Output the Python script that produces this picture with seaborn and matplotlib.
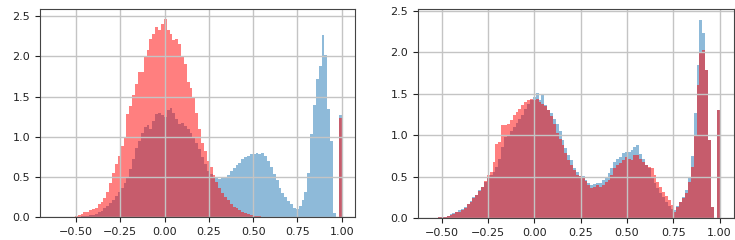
import numpy as np
import pandas as pd
import matplotlib
matplotlib.use("Agg")
import matplotlib.pyplot as plt
import seaborn as sns

# ---------------- data (density heights per bin) ----------------
left_lo, left_hi = -0.62, 1.0
right_lo, right_hi = -0.55, 1.0
n_bins = 100

left_blue = [
    0, 0, 0, 0, 0, 0, 0, 0.0, 0.005, 0.01,
    0.015, 0.02, 0.025, 0.03, 0.04, 0.06, 0.08, 0.11, 0.14, 0.18,
    0.22, 0.27, 0.32, 0.36, 0.42, 0.50, 0.60, 0.72, 0.86, 0.95,
    1.05, 1.12, 1.15, 1.10, 1.20, 1.28, 1.30, 1.27, 1.25, 1.33,
    1.36, 1.30, 1.22, 1.16, 1.17, 1.13, 1.10, 1.05, 0.98, 0.92,
    0.85, 0.75, 0.66, 0.58, 0.54, 0.50, 0.49, 0.47, 0.49, 0.50,
    0.53, 0.57, 0.61, 0.65, 0.68, 0.72, 0.75, 0.76, 0.78, 0.78,
    0.80, 0.79, 0.80, 0.76, 0.70, 0.62, 0.54, 0.46, 0.37, 0.30,
    0.25, 0.20, 0.16, 0.12, 0.10, 0.14, 0.22, 0.32, 0.55, 1.03,
    1.40, 1.72, 1.88, 2.26, 2.02, 1.35, 0.95, 0.05, 0, 1.27,
]
left_red = [
    0, 0, 0, 0, 0, 0, 0.005, 0.01, 0.03, 0.04,
    0.06, 0.07, 0.09, 0.10, 0.12, 0.16, 0.19, 0.24, 0.32, 0.42,
    0.55, 0.66, 0.76, 0.88, 1.00, 1.28, 1.38, 1.52, 1.66, 1.80,
    1.81, 2.00, 2.08, 2.22, 2.28, 2.36, 2.33, 2.40, 2.46, 2.33,
    2.28, 2.20, 2.21, 2.15, 2.00, 1.90, 1.68, 1.60, 1.48, 1.30,
    1.10, 0.92, 0.82, 0.70, 0.62, 0.52, 0.44, 0.36, 0.30, 0.25,
    0.21, 0.17, 0.13, 0.11, 0.09, 0.07, 0.05, 0.04, 0.03, 0.02,
    0.015, 0.01, 0.005, 0, 0, 0, 0, 0, 0, 0,
    0, 0, 0, 0, 0, 0, 0, 0, 0, 0,
    0, 0, 0, 0, 0, 0, 0, 0, 0, 1.23,
]
right_blue = [
    0, 0.005, 0.01, 0.01, 0.02, 0.03, 0.05, 0.06, 0.08, 0.10,
    0.11, 0.14, 0.17, 0.21, 0.26, 0.28, 0.34, 0.38, 0.44, 0.50,
    0.52, 0.56, 0.62, 0.72, 0.86, 0.98, 1.00, 1.05, 1.10, 1.15,
    1.20, 1.25, 1.32, 1.38, 1.42, 1.46, 1.51, 1.42, 1.48, 1.37,
    1.31, 1.27, 1.20, 1.13, 1.05, 0.94, 0.85, 0.76, 0.70, 0.60,
    0.56, 0.51, 0.51, 0.46, 0.42, 0.40, 0.41, 0.42, 0.42, 0.46,
    0.50, 0.54, 0.60, 0.68, 0.71, 0.74, 0.79, 0.80, 0.80, 0.82,
    0.86, 0.88, 0.78, 0.72, 0.64, 0.60, 0.50, 0.42, 0.36, 0.30,
    0.26, 0.20, 0.15, 0.11, 0.10, 0.15, 0.20, 0.26, 0.34, 0.50,
    0.75, 1.27, 1.85, 2.39, 2.23, 1.79, 0.94, 0.14, 0, 1.30,
]
right_red = [
    0, 0.005, 0.01, 0.01, 0.02, 0.03, 0.04, 0.05, 0.07, 0.08,
    0.10, 0.13, 0.17, 0.20, 0.25, 0.28, 0.33, 0.38, 0.45, 0.52,
    0.56, 0.68, 0.90, 0.92, 1.12, 1.12, 1.14, 1.18, 1.24, 1.28,
    1.32, 1.36, 1.40, 1.42, 1.44, 1.42, 1.44, 1.40, 1.38, 1.35,
    1.30, 1.23, 1.13, 1.03, 0.95, 0.88, 0.79, 0.70, 0.64, 0.58,
    0.52, 0.51, 0.48, 0.45, 0.40, 0.36, 0.38, 0.40, 0.38, 0.40,
    0.44, 0.46, 0.52, 0.60, 0.64, 0.67, 0.70, 0.74, 0.72, 0.70,
    0.76, 0.76, 0.72, 0.68, 0.64, 0.62, 0.60, 0.52, 0.44, 0.38,
    0.32, 0.27, 0.22, 0.16, 0.08, 0.14, 0.20, 0.24, 0.30, 0.44,
    0.62, 1.00, 1.61, 2.00, 2.03, 1.79, 0.94, 0.14, 0, 1.31,
]

x_ticks = [-0.50, -0.25, 0.00, 0.25, 0.50, 0.75, 1.00]
y_ticks = [0.0, 0.5, 1.0, 1.5, 2.0, 2.5]

# ---------------- figure ----------------
plt.rcParams["font.family"] = ["DejaVu Sans"]
plt.rcParams["font.size"] = 8

fig = plt.figure(figsize=(7.35, 2.4), dpi=100)
ax_l = fig.add_axes([40 / 735, 1 - 217.3 / 240, (355 - 40) / 735, (217.3 - 9) / 240])
ax_r = fig.add_axes([418 / 735, 1 - 218.3 / 240, (733.5 - 418) / 735, (218.3 - 9.3) / 240])


def draw(ax, lo, hi, blue, red, xlim, ylim):
    edges = [float(e) for e in np.linspace(lo, hi, n_bins + 1)]
    centers = [(edges[i] + edges[i + 1]) / 2 for i in range(n_bins)]
    df = pd.DataFrame({"x": centers, "blue": blue, "red": red})
    sns.histplot(data=df, x="x", weights="blue", bins=edges, stat="count",
                 color="#1f77b4", alpha=0.5, linewidth=0, ax=ax)
    sns.histplot(data=df, x="x", weights="red", bins=edges, stat="count",
                 color="red", alpha=0.5, linewidth=0, ax=ax)
    ax.set_xlim(*xlim)
    ax.set_ylim(*ylim)
    ax.set_xticks(x_ticks)
    ax.set_yticks(y_ticks)
    ax.set_xticklabels([f"{v:.2f}".replace("-", "\u2212") for v in x_ticks])
    ax.set_yticklabels([f"{v:.1f}" for v in y_ticks])
    ax.grid(True, color="#c4c4c4", linewidth=1.0)
    for s in ax.spines.values():
        s.set_color("#444444")
    ax.set_xlabel("")
    ax.set_ylabel("")
    ax.tick_params(labelsize=8, length=3.5, width=0.8, colors="#222222")


draw(ax_l, left_lo, left_hi, left_blue, left_red, (-0.703, 1.075), (0, 2.587))
draw(ax_r, right_lo, right_hi, right_blue, right_red, (-0.627, 1.075), (0, 2.517))

fig.savefig("out.png", dpi=100)
